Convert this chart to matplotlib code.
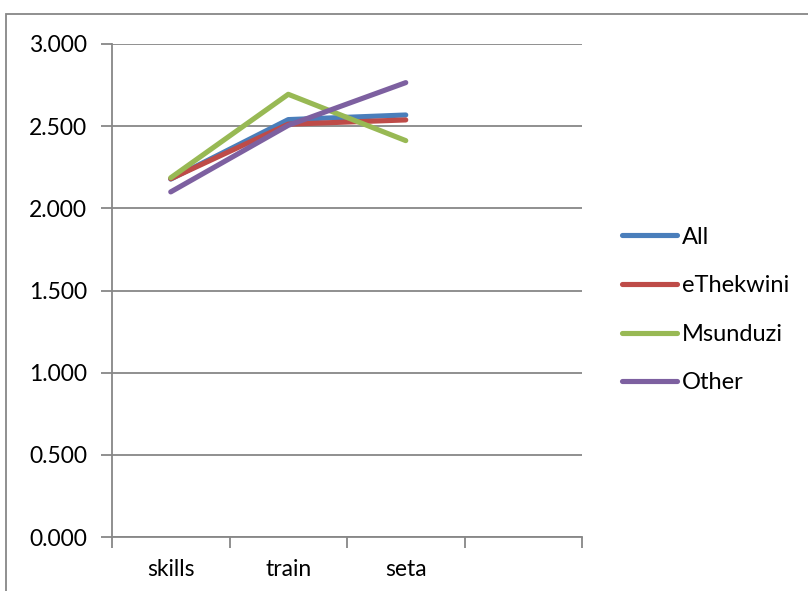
import matplotlib
matplotlib.use("Agg")
import matplotlib.pyplot as plt
from matplotlib.patches import Rectangle
import numpy as np

plt.rcParams['font.family'] = ['Lato', 'DejaVu Sans']

categories = ["skills", "train", "seta", ""]
series_names = ["All", "eThekwini", "Msunduzi", "Other"]
all_vals = [2.178, 2.540, 2.568]
ethekwini_vals = [2.180, 2.512, 2.538]
msunduzi_vals = [2.186, 2.694, 2.412]
other_vals = [2.100, 2.505, 2.765]
y_ticks = [0.0, 0.5, 1.0, 1.5, 2.0, 2.5, 3.0]

colors = ["#4A7EBB", "#BE4B48", "#98B954", "#7D60A0"]
grid_col = "#878787"
fs = 16.5

W, H = 808, 591
fig = plt.figure(figsize=(W / 100, H / 100), dpi=100)

# chart-area border (runs off the right and bottom edges)
fig.patches.append(Rectangle((6 / W, -0.1), 1.2, 1 - 14 / H + 0.1,
                             transform=fig.transFigure, fill=False,
                             edgecolor=grid_col, linewidth=1.3))

ax = fig.add_axes([112 / W, 1 - 537 / H, (582 - 112) / W, (537 - 44) / H])

series = [all_vals, ethekwini_vals, msunduzi_vals, other_vals]
x = np.arange(len(all_vals)) + 0.5
for name, vals, c in zip(series_names, series, colors):
    ax.plot(x, vals, color=c, linewidth=3.7, label=name,
            solid_capstyle='round', solid_joinstyle='round')

ax.set_xlim(0, len(categories))
ax.set_ylim(0, 3.0)
ax.set_yticks(y_ticks)
ax.set_yticklabels([f"{v:.3f}" for v in y_ticks])
ax.yaxis.grid(True, color=grid_col, linewidth=1.3)
ax.set_axisbelow(True)

ax.set_xticks(np.arange(len(categories) + 1))
ax.set_xticklabels([])
ax.set_xticks(np.arange(len(categories)) + 0.5, minor=True)
ax.set_xticklabels(categories, minor=True)
ax.tick_params(axis='x', which='minor', length=0, pad=16, labelsize=fs)
ax.tick_params(axis='x', which='major', length=8, width=1.3, color=grid_col)
ax.tick_params(axis='y', length=8, width=1.3, color=grid_col, labelsize=fs, pad=10)

for s in ["top", "right"]:
    ax.spines[s].set_visible(False)
for s in ["left", "bottom"]:
    ax.spines[s].set_color(grid_col)
    ax.spines[s].set_linewidth(1.3)

leg = fig.legend(loc='center left', bbox_to_anchor=(622 / W, 1 - 310 / H),
                 frameon=False, fontsize=fs + 0.5, handlelength=2.35,
                 handletextpad=0.2, labelspacing=1.17, borderpad=0,
                 borderaxespad=0)

fig.savefig("out.png", dpi=100)
